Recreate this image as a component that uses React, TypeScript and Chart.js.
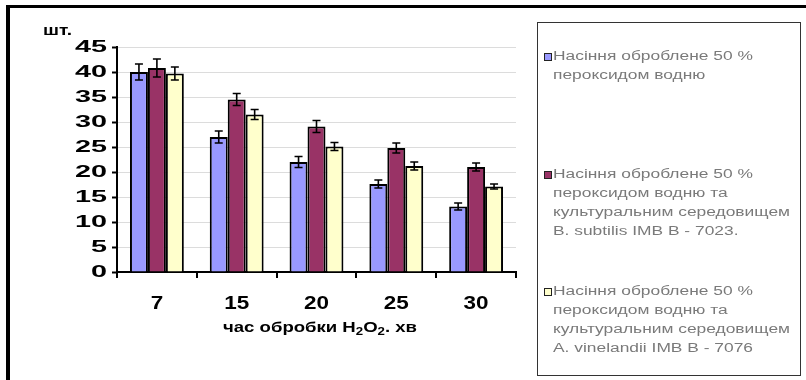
import React, { useEffect, useRef } from "react";
import { Chart, registerables } from "chart.js";

Chart.register(...registerables);

const categories = ["7", "15", "20", "25", "30"];
const yTickMin = 0;
const yTickMax = 45;
const yTickStep = 5;

const seriesColors = ["#9999FF", "#993366", "#FFFFCC"];
const seriesShort = ["H2O2 50%", "H2O2 + B. subtilis", "H2O2 + A. vinelandii"];

const untreated = [40, 27, 22, 17.6, 13.1];
const subtilis = [40.8, 34.5, 29.1, 24.8, 21];
const vinelandii = [39.7, 31.5, 25.1, 21.2, 17.1];

const untreatedErr = [1.6, 1.2, 1.1, 0.8, 0.7];
const subtilisErr = [1.8, 1.2, 1.2, 1.0, 0.8];
const vinelandiiErr = [1.3, 1.0, 0.8, 0.8, 0.5];

const legendItems = [
  ["Насіння оброблене 50 %", "пероксидом водню"],
  ["Насіння оброблене 50 %", "пероксидом водню та", "культуральним середовищем", "B. subtilis IMB B - 7023."],
  ["Насіння оброблене 50 %", "пероксидом водню та", "культуральним середовищем", "A. vinelandii IMB B - 7076"],
];

const yUnit = "шт.";
const xTitleParts: [string, boolean][] = [
  ["час обробки H", false],
  ["2", true],
  ["O", false],
  ["2", true],
  [". хв", false],
];

const FONT = "'Liberation Sans', Arial, sans-serif";

function drawScaled(ctx: CanvasRenderingContext2D, text: string, x: number, y: number, sx: number, align: "left" | "center" | "right") {
  const w = ctx.measureText(text).width * sx;
  let left = x;
  if (align === "center") left = x - w / 2;
  if (align === "right") left = x - w;
  ctx.save();
  ctx.translate(left, y);
  ctx.scale(sx, 1);
  ctx.textAlign = "left";
  ctx.fillText(text, 0, 0);
  ctx.restore();
}

const errorBarsPlugin = {
  id: "errorBars",
  afterDatasetsDraw(chart: any) {
    const ctx = chart.ctx as CanvasRenderingContext2D;
    const yScale = chart.scales.y;
    chart.data.datasets.forEach((ds: any, i: number) => {
      const meta = chart.getDatasetMeta(i);
      meta.data.forEach((el: any, j: number) => {
        const v = ds.data[j];
        const e = ds.errors[j];
        const yt = yScale.getPixelForValue(v + e);
        const yb = yScale.getPixelForValue(v - e);
        ctx.save();
        ctx.strokeStyle = "#000";
        ctx.lineWidth = 1.6;
        ctx.beginPath();
        ctx.moveTo(el.x, yt);
        ctx.lineTo(el.x, yb);
        ctx.moveTo(el.x - 4, yt);
        ctx.lineTo(el.x + 4, yt);
        ctx.moveTo(el.x - 4, yb);
        ctx.lineTo(el.x + 4, yb);
        ctx.stroke();
        ctx.restore();
      });
    });
  },
};

const decorPlugin = {
  id: "decor",
  beforeDraw(chart: any) {
    const ctx = chart.ctx as CanvasRenderingContext2D;
    ctx.save();
    ctx.fillStyle = "#fff";
    ctx.fillRect(0, 0, chart.width, chart.height);
    ctx.restore();
  },
  afterDraw(chart: any) {
    const ctx = chart.ctx as CanvasRenderingContext2D;
    const xs = chart.scales.x;
    const ys = chart.scales.y;
    ctx.save();
    ctx.fillStyle = "#000";
    ctx.textBaseline = "middle";

    // y tick labels
    ctx.font = `bold 16px ${FONT}`;
    const ySx = 32 / ctx.measureText("45").width;
    ys.ticks.forEach((t: any) => {
      drawScaled(ctx, String(t.value), ys.right - 10, ys.getPixelForValue(t.value) + 1, ySx, "right");
    });

    // x tick labels
    ctx.font = `bold 18px ${FONT}`;
    const xSx = 25 / ctx.measureText("20").width;
    categories.forEach((c, i) => {
      drawScaled(ctx, c, xs.getPixelForValue(i), 304, xSx, "center");
    });

    // unit label
    ctx.font = `bold 14px ${FONT}`;
    const uSx = 29 / ctx.measureText(yUnit).width;
    drawScaled(ctx, yUnit, 43, 31, uSx, "left");

    // x title with subscripts
    const bigF = `bold 14px ${FONT}`;
    const smallF = `bold 10px ${FONT}`;
    let total = 0;
    xTitleParts.forEach(([s, sub]) => {
      ctx.font = sub ? smallF : bigF;
      total += ctx.measureText(s).width;
    });
    const tSx = 194 / total;
    let cx = 223;
    xTitleParts.forEach(([s, sub]) => {
      ctx.font = sub ? smallF : bigF;
      const w = ctx.measureText(s).width * tSx;
      drawScaled(ctx, s, cx, sub ? 332 : 328, tSx, "left");
      cx += w;
    });

    // legend box
    ctx.strokeStyle = "#333";
    ctx.lineWidth = 1;
    ctx.strokeRect(537.5, 22.5, 263, 353);
    ctx.font = `12px ${FONT}`;
    const lSx = 237 / ctx.measureText("культуральним середовищем").width;
    const starts = [57, 175, 292];
    const lh = 19;
    legendItems.forEach((lines, i) => {
      const y0 = starts[i];
      ctx.fillStyle = seriesColors[i];
      ctx.fillRect(545, y0 - 3, 6, 6);
      ctx.strokeStyle = "#222";
      ctx.lineWidth = 1;
      ctx.strokeRect(544.5, y0 - 3.5, 7, 7);
      ctx.fillStyle = "#7a7a7a";
      lines.forEach((ln, k) => {
        drawScaled(ctx, ln, 553, y0 + k * lh, lSx, "left");
      });
    });

    // outer frame
    ctx.fillStyle = "#000";
    ctx.fillRect(6, 5, 800, 3);
    ctx.fillRect(6, 5, 4, 375);
    ctx.restore();
  },
};

export default function App() {
  const ref = useRef<HTMLCanvasElement | null>(null);
  useEffect(() => {
    if (!ref.current) return;
    const chart = new Chart(ref.current, {
      type: "bar",
      data: {
        labels: categories,
        datasets: [
          { label: seriesShort[0], data: untreated, errors: untreatedErr, backgroundColor: seriesColors[0] } as any,
          { label: seriesShort[1], data: subtilis, errors: subtilisErr, backgroundColor: seriesColors[1] } as any,
          { label: seriesShort[2], data: vinelandii, errors: vinelandiiErr, backgroundColor: seriesColors[2] } as any,
        ].map((d: any) => ({
          ...d,
          borderColor: "#000",
          borderWidth: 2,
          barPercentage: 1,
          categoryPercentage: 0.675,
        })),
      },
      options: {
        responsive: false,
        animation: false,
        layout: { padding: { left: 0, right: 290, top: 47, bottom: 0 } },
        plugins: { legend: { display: false }, tooltip: { enabled: false }, title: { display: false } },
        scales: {
          x: {
            type: "category",
            afterFit: (s: any) => {
              s.height = 108;
            },
            ticks: { display: false },
            grid: {
              display: true,
              offset: true,
              drawOnChartArea: false,
              drawTicks: true,
              tickLength: 6,
              color: "#000",
              lineWidth: 2,
            },
            border: { display: true, color: "#000", width: 2 },
          },
          y: {
            min: yTickMin,
            max: yTickMax,
            afterFit: (s: any) => {
              s.width = 117;
            },
            ticks: { display: false, stepSize: yTickStep },
            grid: {
              color: "#dcdcdc",
              lineWidth: 1,
              drawTicks: true,
              tickLength: 5,
              tickColor: "#000",
              tickWidth: 2,
            },
            border: { display: true, color: "#000", width: 2 },
          },
        },
      } as any,
      plugins: [decorPlugin, errorBarsPlugin],
    });
    return () => chart.destroy();
  }, []);
  return (
    <div style={{ position: "absolute", left: 0, top: 0, width: 806, height: 380, background: "#fff" }}>
      <canvas ref={ref} width={806} height={380} style={{ display: "block" }} />
    </div>
  );
}
